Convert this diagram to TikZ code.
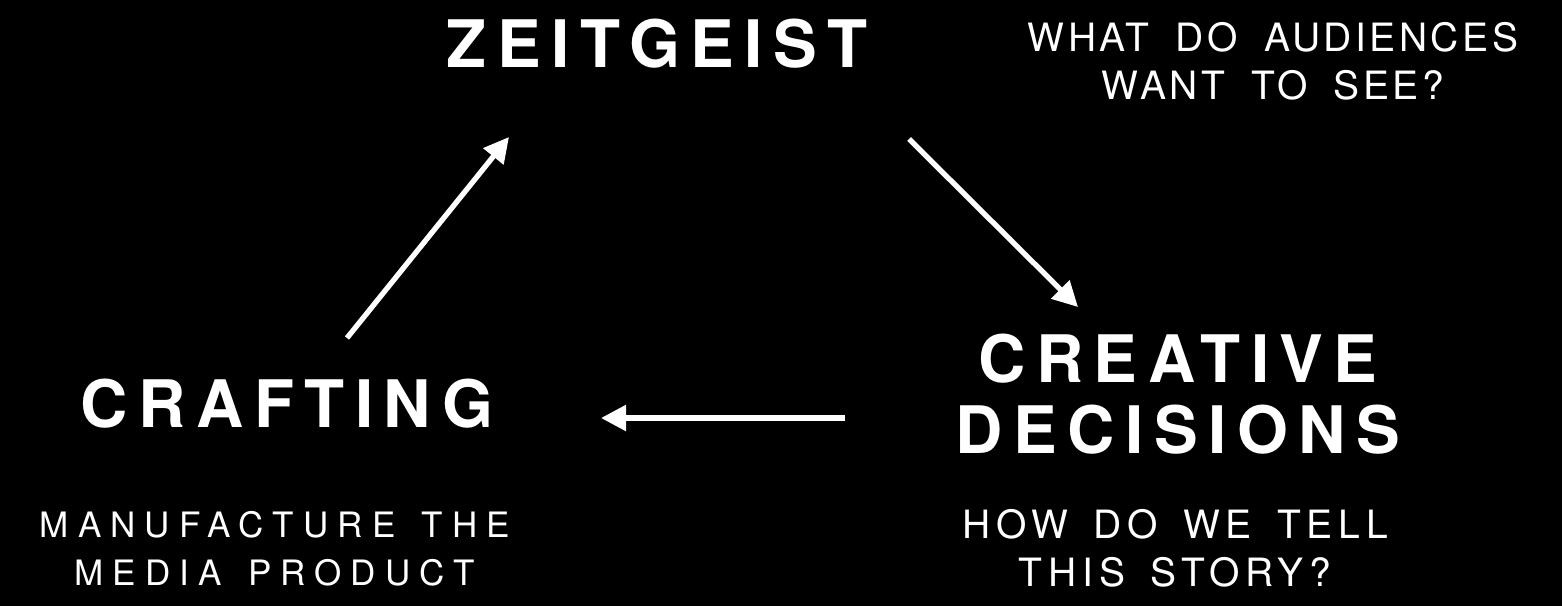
\documentclass[tikz,border=0pt]{standalone}
\usepackage{fontspec}
\usetikzlibrary{arrows.meta}
\newfontfamily\headfont[LetterSpace=16,BoldFont={* Bold}]{TeX Gyre Heros}
\newfontfamily\askfont[LetterSpace=9,WordSpace=1.83]{TeX Gyre Heros}
\newfontfamily\howfont[LetterSpace=15,WordSpace=1.52]{TeX Gyre Heros}
\newfontfamily\makefont[LetterSpace=26,WordSpace=1.4]{TeX Gyre Heros}
\begin{document}
\begin{tikzpicture}[x=1pt,y=-1pt,
  head/.style={text=white,inner sep=0pt,anchor=base,align=center,font=\headfont\bfseries\fontsize{65.5}{71}\selectfont},
  note/.style={text=white,inner sep=0pt,anchor=base,align=center},
  flow/.style={draw=white,line width=5.3pt,-{Triangle[length=25pt,width=25pt]}}]
\fill[black] (0,0) rectangle (1562,606);
\useasboundingbox (0,0) rectangle (1562,606);
\node[head] (zeit) at (657,67) {ZEITGEIST};
\node[note,font=\askfont\fontsize{39}{48}\selectfont] (want) at (1273,99) {WHAT DO AUDIENCES\\WANT TO SEE?};
\node[head] (creative) at (1178,453) {CREATIVE\\DECISIONS};
\node[note,font=\howfont\fontsize{39}{48}\selectfont] (how) at (1175,586) {HOW DO WE TELL\\THIS STORY?};
\node[head] (craft) at (287,427) {CRAFTING};
\node[note,font=\makefont\fontsize{35}{48}\selectfont] (manu) at (275,585) {MANUFACTURE THE\\MEDIA PRODUCT};
\coordinate (a1s) at (347,338);
\coordinate (a1e) at (509,137);
\coordinate (a2s) at (909,139);
\coordinate (a2e) at (1078,307);
\coordinate (a3s) at (845,418);
\coordinate (a3e) at (601,418);
\draw[flow] (a1s) -- (a1e);
\draw[flow] (a2s) -- (a2e);
\draw[flow] (a3s) -- (a3e);
\end{tikzpicture}
\end{document}
